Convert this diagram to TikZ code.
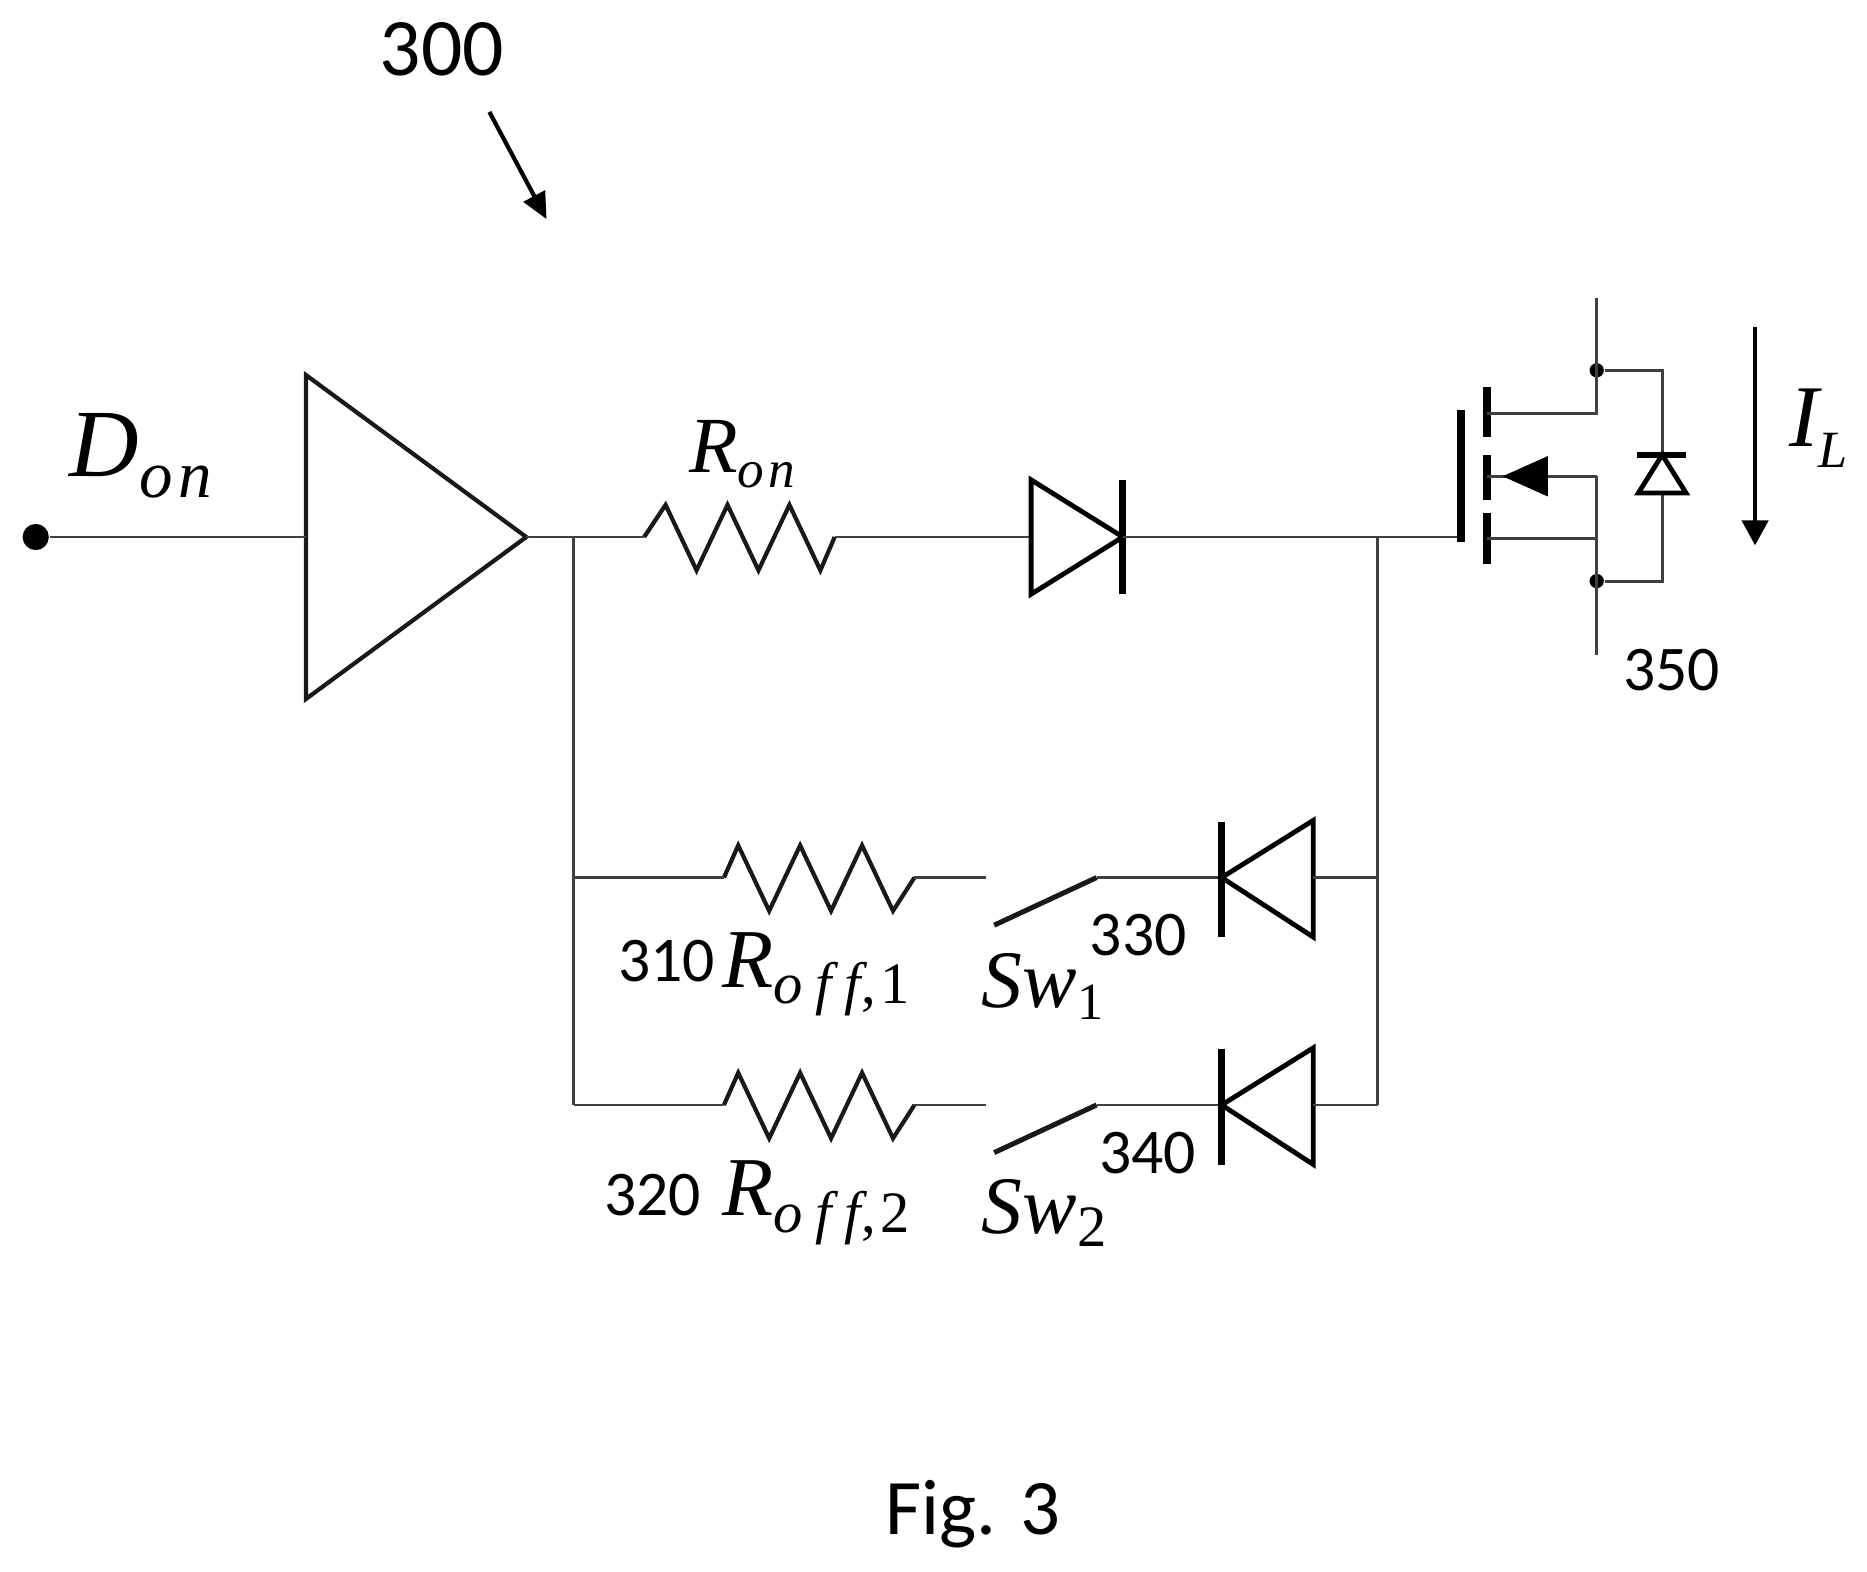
\documentclass[tikz,border=0pt]{standalone}
\usepackage{fontspec}
\setmainfont{Carlito}
\newfontfamily\symfont{Liberation Serif}
\newfontfamily\symsub[LetterSpace=8]{Liberation Serif}
\newfontfamily\symwide[LetterSpace=22]{Liberation Serif}
\usetikzlibrary{arrows.meta,positioning}

% letter with a lowered index, #4 is the index
\newcommand{\symlab}[4]{{\symfont\itshape #1}\raisebox{-#3}{{\symsub\fontsize{#2}{#2}\selectfont\itshape #4}}}
\newcommand{\symup}[1]{{\upshape #1}}
\newcommand{\symoff}{{\symwide\itshape off}}

\tikzset{
    pics/resistor/.style={code={
        \draw[part] (0,0) -- (12+#1,-27) -- (38+#1,28) -- (64+#1,-27) -- (90+#1,28)
            -- (116+#1,-27) -- (142+#1,28) -- (160,0);
    }}
}

\begin{document}
\begin{tikzpicture}[x=0.01cm,y=-0.01cm,
    wire/.style={line width=0.7pt,draw=black!75},
    part/.style={line width=1pt,draw=black!90,line join=miter},
    heavy/.style={line width=1.15pt,draw=black},
    plate/.style={line width=2pt,draw=black},
    dot/.style={circle,fill=black,inner sep=0pt,minimum size=#1},
    number/.style={inner sep=0pt,font=\fontsize{15.2pt}{18pt}\selectfont},
    big/.style={inner sep=0pt,font=\fontsize{19.5pt}{23pt}\selectfont},
    symbol/.style={inner sep=0pt,anchor=base west,font=\fontsize{20pt}{24pt}\selectfont}
]
    \useasboundingbox (0,0) rectangle (1568,1320);

    % input and buffer
    \node (in) [dot=0.22cm] at (30,451) {};
    \coordinate (bufa) at (257,315);
    \coordinate (bufb) at (257,587);
    \coordinate (bufin) at (257,451);
    \coordinate (bufout) at (442,451);
    \draw[part] (bufa) -- (bufout) -- (bufb) -- cycle;
    \draw[wire] (in) -- (bufin);

    % turn-on branch
    \coordinate (split) at (482,451);
    \coordinate (ronl) at (541,451);
    \coordinate (ronr) at (701,451);
    \coordinate (da) at (866,451);
    \coordinate (dk) at (943,451);
    \coordinate (merge) at (1157,451);
    \coordinate (gate) at (1227,451);
    \pic at (ronl) {resistor=6};
    \draw[wire] (bufout) -- (ronl);
    \draw[wire] (ronr) -- (da);
    \draw[heavy] (866,403) -- (dk) -- (866,499) -- cycle;
    \draw[plate,line width=1.6pt] (943,403) -- (943,499);
    \draw[wire] (dk) -- (gate);

    % turn-off branches
    \foreach \y/\n in {737/1,928/2}{
        \coordinate (rl\n) at (608,\y);
        \coordinate (rr\n) at (768,\y);
        \coordinate (rend\n) at (828,\y);
        \coordinate (swa\n) at (835,\y+40);
        \coordinate (swb\n) at (921,\y);
        \coordinate (k\n) at (1026,\y);
        \coordinate (a\n) at (1103,\y);
        \coordinate (ll\n) at (482,\y);
        \coordinate (lr\n) at (1157,\y);
        \pic at (rl\n) {resistor=0};
        \draw[wire] (ll\n) -- (rl\n);
        \draw[wire] (rr\n) -- (rend\n);
        \draw[part,line width=1.2pt] (swa\n) -- (swb\n);
        \draw[wire] (swb\n) -- (k\n);
        \draw[heavy] (k\n) -- (1103,\y-48) -- (1103,\y+50) -- cycle;
        \draw[plate,line width=1.6pt] (1026,\y-47) -- (1026,\y+50);
        \draw[wire] (a\n) -- (lr\n);
    }
    \draw[wire] (split) -- (ll2);
    \draw[wire] (merge) -- (lr2);

    % power switch
    \coordinate (dtop) at (1341,250);
    \coordinate (dbot) at (1341,550);
    \coordinate (ch1) at (1249,347);
    \coordinate (ch2) at (1249,400);
    \coordinate (ch3) at (1249,452);
    \coordinate (d1) at (1341,347);
    \coordinate (d2) at (1341,400);
    \coordinate (d3) at (1341,452);
    \node (dotu) [dot=0.12cm] at (1341,311) {};
    \node (dotl) [dot=0.12cm] at (1341,488) {};
    \coordinate (fwk) at (1396,382);
    \coordinate (fwa) at (1396,414);
    \draw[plate] (1227,344) -- (1227,455);
    \draw[plate] (1249,325) -- (1249,367);
    \draw[plate] (1249,382) -- (1249,420);
    \draw[plate] (1249,431) -- (1249,474);
    \draw[wire] (dtop) -- (d1) -- (ch1);
    \draw[wire] (ch3) -- (d3);
    \draw[wire] (d2) -- (dbot);
    \draw[wire] (d2) -- (ch2);
    \fill (1262,400) -- (1300,383) -- (1300,417) -- cycle;
    \draw[wire] (dotu) -| (fwk);
    \draw[wire] (dotl) -| (fwa);
    \draw[heavy] (fwk) -- (1376,414) -- (1416,414) -- cycle;
    \draw[plate,line width=1.6pt] (1375,382) -- (1416,382);

    % load current arrow and pointer
    \coordinate (iltop) at (1474,275);
    \coordinate (iltip) at (1474,458);
    \draw[line width=1pt,-{Triangle[length=0.21cm,width=0.22cm]}] (iltop) -- (iltip);
    \coordinate (ptra) at (411,94);
    \coordinate (ptrb) at (459,184);
    \draw[line width=1pt,-{Triangle[length=0.22cm,width=0.2cm]}] (ptra) -- (ptrb);

    % labels
    \node (n300) [big] at (371,41) {300};
    \node (n310) [number] at (560,807) {310};
    \node (n320) [number] at (548,1004) {320};
    \node (n330) [number] at (956,785) {330};
    \node (n340) [number] at (964,968) {340};
    \node (n350) [number] at (1404,563) {350};
    \node (fig) [big,font=\fontsize{18.8pt}{23pt}\selectfont] at (817,1272) {Fig. 3};
    \node (ldon) [symbol,font=\fontsize{23pt}{26pt}\selectfont] at (58,400) {\symlab{D}{16pt}{5pt}{on}};
    \node (lron) [symbol,font=\fontsize{19pt}{24pt}\selectfont] at (578,397) {\symlab{R}{12.7pt}{3.5pt}{on}};
    \node (lil) [symbol,font=\fontsize{21pt}{24pt}\selectfont] at (1502,375) {\symlab{I}{12.5pt}{5pt}{L}};
    \node (lbl1) [symbol] at (606,829) {\symlab{R}{14pt}{4pt}{\symoff\symup{,1}}};
    \node (lbl2) [symbol] at (606,1021) {\symlab{R}{14pt}{4pt}{\symoff\symup{,2}}};
    \node (lsw1) [symbol,font=\fontsize{19.5pt}{24pt}\selectfont] at (824,846) {\symlab{Sw}{12.5pt}{3pt}{\symup{1}}};
    \node (lsw2) [symbol,font=\fontsize{19.5pt}{24pt}\selectfont] at (824,1036) {\symlab{Sw}{14pt}{3pt}{\symup{2}}};
\end{tikzpicture}
\end{document}
